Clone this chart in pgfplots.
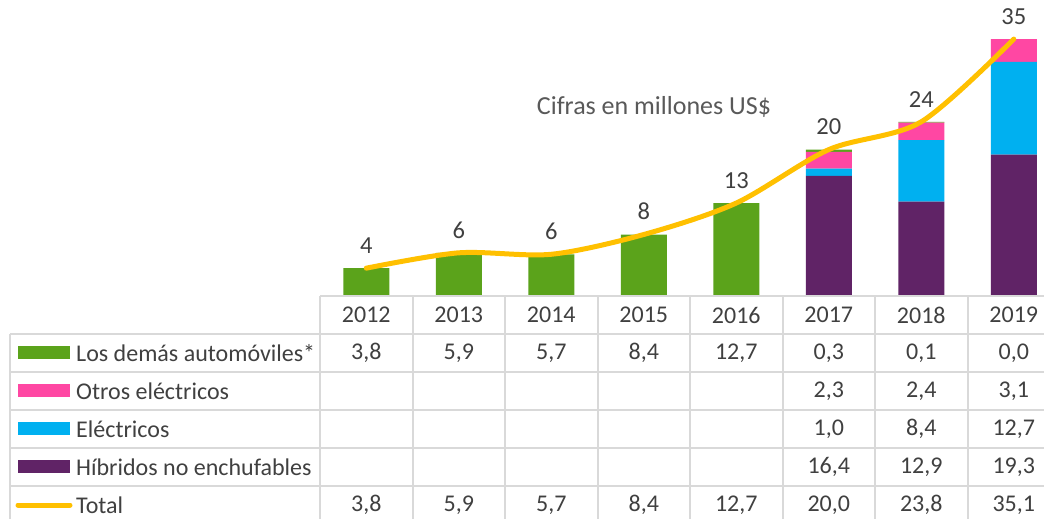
\documentclass[border=0pt]{standalone}
\usepackage{pgfplots}
\pgfplotsset{compat=1.18}
\usepackage{fontspec}
\setmainfont{Carlito}
\definecolor{cgreen}{HTML}{5BA31B}
\definecolor{cpink}{HTML}{FF47A3}
\definecolor{cblue}{HTML}{00B0F0}
\definecolor{cpurple}{HTML}{602366}
\definecolor{cgold}{HTML}{FFC000}
\definecolor{cgrid}{HTML}{D9D9D9}
\definecolor{ctext}{HTML}{404040}
\definecolor{cgray}{HTML}{595959}
\pgfplotsset{base/.style={
  at={(320pt,-296pt)}, anchor=south west,
  scale only axis, width=740pt, height=296pt,
  xmin=-0.5, xmax=7.5, ymin=0, ymax=40.44,
  hide axis, clip=false}}
\begin{document}
\begin{tikzpicture}
\path[use as bounding box, clip] (0pt,0pt) rectangle (1044pt,-519pt);
\begin{axis}[base, ybar stacked, bar width=46pt]
\addplot[fill=cpurple, draw=none] coordinates {(0,0) (1,0) (2,0) (3,0) (4,0) (5,16.4) (6,12.9) (7,19.3)};
\addplot[fill=cblue, draw=none] coordinates {(0,0) (1,0) (2,0) (3,0) (4,0) (5,1.0) (6,8.4) (7,12.7)};
\addplot[fill=cpink, draw=none] coordinates {(0,0) (1,0) (2,0) (3,0) (4,0) (5,2.3) (6,2.4) (7,3.1)};
\addplot[fill=cgreen, draw=none] coordinates {(0,3.8) (1,5.9) (2,5.7) (3,8.4) (4,12.7) (5,0.3) (6,0.1) (7,0.0)};
\end{axis}
\begin{axis}[base, /pgf/number format/assume math mode=true]
\addplot[smooth, tension=0.5, mark=none, draw=cgold, line width=5pt, line cap=round,
  nodes near coords={\pgfmathprintnumber[fixed,precision=0]{\pgfplotspointmeta}},
  point meta=y,
  every node near coord/.style={anchor=south, inner sep=0pt, yshift=12pt, text=ctext, font=\fontsize{24.5}{28}\selectfont}]
  coordinates {(0,3.8) (1,5.9) (2,5.7) (3,8.4) (4,12.7) (5,20.0) (6,23.8) (7,35.1)};
\end{axis}
\begin{scope}[x=1pt,y=-1pt]
  \node[text=cgray, font=\fontsize{26}{30}\selectfont] at (654,107) {Cifras en millones US\$};
  % grid
  \draw[cgrid, line width=2pt] (320,296) -- (1044,296);
  \foreach \yy in {334,372,410,448,486} \draw[cgrid, line width=2pt] (10,\yy) -- (1044,\yy);
  \draw[cgrid, line width=2pt] (10,334) -- (10,519);
  \foreach \k in {0,...,8} \draw[cgrid, line width=2pt] ({320+92.5*\k},296) -- ({320+92.5*\k},519);
  \begin{scope}[every node/.style={text=ctext, font=\fontsize{24}{28}\selectfont, inner sep=0pt}]
  % header
  \foreach \t [count=\i from 0] in {2012,2013,2014,2015,2016,2017,2018,2019}
     \node at ({366.25+92.5*\i},315) {\t};
  \foreach \t [count=\i from 0] in {{3,8},{5,9},{5,7},{8,4},{12,7},{0,3},{0,1},{0,0}}
     \node at ({366.25+92.5*\i},353) {\t};
  \foreach \t [count=\i from 5] in {{2,3},{2,4},{3,1}}
     \node at ({366.25+92.5*\i},391) {\t};
  \foreach \t [count=\i from 5] in {{1,0},{8,4},{12,7}}
     \node at ({366.25+92.5*\i},429) {\t};
  \foreach \t [count=\i from 5] in {{16,4},{12,9},{19,3}}
     \node at ({366.25+92.5*\i},467) {\t};
  \foreach \t [count=\i from 0] in {{3,8},{5,9},{5,7},{8,4},{12,7},{20,0},{23,8},{35,1}}
     \node at ({366.25+92.5*\i},505) {\t};
  % legend column
  \fill[cgreen] (18,346) rectangle (70,359);
  \node[anchor=west] at (76,353) {Los demás automóviles*};
  \fill[cpink] (18,384) rectangle (70,397);
  \node[anchor=west] at (76,391) {Otros eléctricos};
  \fill[cblue] (18,422) rectangle (70,435);
  \node[anchor=west] at (76,429) {Eléctricos};
  \fill[cpurple] (18,460) rectangle (70,473);
  \node[anchor=west] at (76,467) {Híbridos no enchufables};
  \draw[cgold, line width=5pt, line cap=round] (18,505) -- (70,505);
  \node[anchor=west] at (76,505) {Total};
  \end{scope}
\end{scope}
\end{tikzpicture}
\end{document}
